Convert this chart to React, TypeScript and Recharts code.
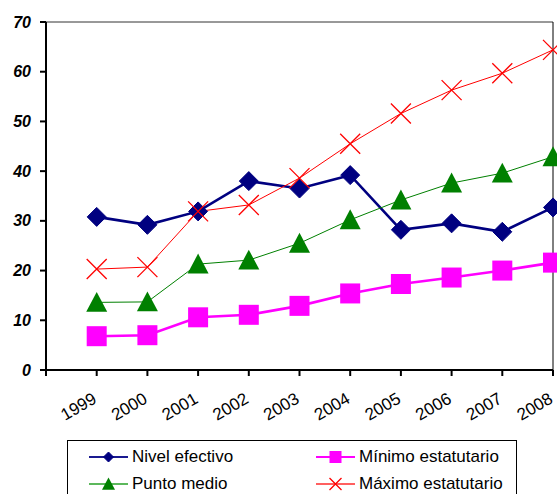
import { LineChart, Line, XAxis, YAxis, ReferenceLine } from 'recharts';

const years = [1999, 2000, 2001, 2002, 2003, 2004, 2005, 2006, 2007, 2008];
const nivelEfectivo = [30.8, 29.2, 31.9, 38.0, 36.5, 39.2, 28.2, 29.5, 27.8, 32.7];
const minimoEstatutario = [6.8, 7.0, 10.6, 11.1, 12.9, 15.4, 17.3, 18.6, 20.0, 21.6];
const puntoMedio = [13.6, 13.7, 21.3, 22.1, 25.5, 30.2, 34.2, 37.6, 39.6, 42.9];
const maximoEstatutario = [20.3, 20.7, 31.9, 33.2, 38.6, 45.5, 51.6, 56.3, 59.7, 64.4];
const yTicks = [0, 10, 20, 30, 40, 50, 60, 70];
const xTicks = [1998, ...years];

const data = years.map((year, i) => ({
    year,
    nivel: nivelEfectivo[i],
    minimo: minimoEstatutario[i],
    medio: puntoMedio[i],
    maximo: maximoEstatutario[i],
}));

const FONT = 'Arial, "Liberation Sans", sans-serif';
const NAVY = '#000080';
const MAGENTA = '#FF00FF';
const GREEN = '#008000';
const RED = '#FF0000';

// marker shapes, like the old Excel ones
const diamond = (cx: number, cy: number, r: number, color: string) =>
    <polygon points={`${cx},${cy - r} ${cx + r},${cy} ${cx},${cy + r} ${cx - r},${cy}`} fill={color} stroke={color} />;
const square = (cx: number, cy: number, r: number, color: string) =>
    <rect x={cx - r} y={cy - r} width={r * 2} height={r * 2} fill={color} />;
const triangle = (cx: number, cy: number, r: number, color: string) =>
    <polygon points={`${cx},${cy - r} ${cx + r},${cy + r * 0.9} ${cx - r},${cy + r * 0.9}`} fill={color} />;
const cross = (cx: number, cy: number, r: number, color: string) =>
    <path d={`M${cx - r},${cy - r}L${cx + r},${cy + r}M${cx - r},${cy + r}L${cx + r},${cy - r}`} stroke={color} strokeWidth={1.3} fill="none" />;

const makeDot = (shape: typeof diamond, r: number, color: string, name: string) => (p: any) =>
    <g key={`${name}-${p.index}`}>{p.cx != null && p.cy != null ? shape(p.cx, p.cy, r, color) : null}</g>;

const XTick = ({ x, y, payload }: any) => {
    if (payload.value === 1998) return null;
    return (
        <g transform={`translate(${x + 1},${y + 24}) rotate(-30)`}>
            <text textAnchor="end" fontSize={17} fontFamily={FONT} fill="#000">{payload.value}</text>
        </g>
    );
};

const YTick = ({ y, payload }: any) => (
    <text x={31} y={y} dy={5.5} textAnchor="end" fontSize={16} fontWeight="bold" fontStyle="italic" fontFamily={FONT} fill="#000">
        {payload.value}
    </text>
);

const legendItems = [
    { name: 'Nivel efectivo', color: NAVY, line: '#1a1a90', shape: diamond, r: 5, left: 21, top: 16 },
    { name: 'Mínimo estatutario', color: MAGENTA, line: MAGENTA, shape: square, r: 6, left: 248, top: 16 },
    { name: 'Punto medio', color: GREEN, line: '#5cb85c', shape: triangle, r: 6.5, left: 21, top: 43 },
    { name: 'Máximo estatutario', color: RED, line: '#ff6060', shape: cross, r: 6, left: 248, top: 43 },
];

export default function App() {
    return (
        <div style={{ position: 'absolute', left: 0, top: 0, width: 557, height: 494, overflow: 'hidden', background: '#fff' }}>
            <LineChart width={557} height={494} data={data} margin={{ top: 22, right: 4, left: 0, bottom: 84 }}>
                <XAxis
                    dataKey="year"
                    type="number"
                    domain={[1998, 2008]}
                    ticks={xTicks}
                    height={40}
                    tickSize={6}
                    stroke="#000"
                    strokeWidth={2}
                    tick={<XTick />}
                    interval={0}
                />
                <YAxis
                    domain={[0, 70]}
                    ticks={yTicks}
                    width={46}
                    tickSize={6}
                    stroke="#000"
                    strokeWidth={2}
                    interval={0}
                    tick={<YTick />}
                />
                <ReferenceLine y={70} stroke="#333" strokeWidth={1} />
                <ReferenceLine x={2008} stroke="#000" strokeWidth={1} />
                <Line dataKey="nivel" stroke={NAVY} strokeWidth={2.6} isAnimationActive={false}
                    dot={makeDot(diamond, 9.5, NAVY, 'n')} activeDot={false} />
                <Line dataKey="minimo" stroke={MAGENTA} strokeWidth={2.6} isAnimationActive={false}
                    dot={makeDot(square, 10, MAGENTA, 'm')} activeDot={false} />
                <Line dataKey="medio" stroke={GREEN} strokeWidth={1} isAnimationActive={false}
                    dot={makeDot(triangle, 10.5, GREEN, 'p')} activeDot={false} />
                <Line dataKey="maximo" stroke={RED} strokeWidth={1} isAnimationActive={false}
                    dot={makeDot(cross, 10, RED, 'x')} activeDot={false} />
            </LineChart>
            <div style={{ position: 'absolute', left: 67, top: 440, width: 448, height: 80, border: '1px solid #000', background: '#fff', fontFamily: FONT }}>
                {legendItems.map((it) => (
                    <div key={it.name} style={{ position: 'absolute', left: it.left, top: it.top - 10, height: 20, display: 'flex', alignItems: 'center' }}>
                        <svg width={39} height={20}>
                            <line x1={0} y1={10} x2={39} y2={10} stroke={it.line} strokeWidth={2} />
                            {it.shape(19.5, 10, it.r, it.color)}
                        </svg>
                        <span style={{ marginLeft: 4, fontSize: 17, color: '#000', whiteSpace: 'nowrap' }}>{it.name}</span>
                    </div>
                ))}
            </div>
        </div>
    );
}
